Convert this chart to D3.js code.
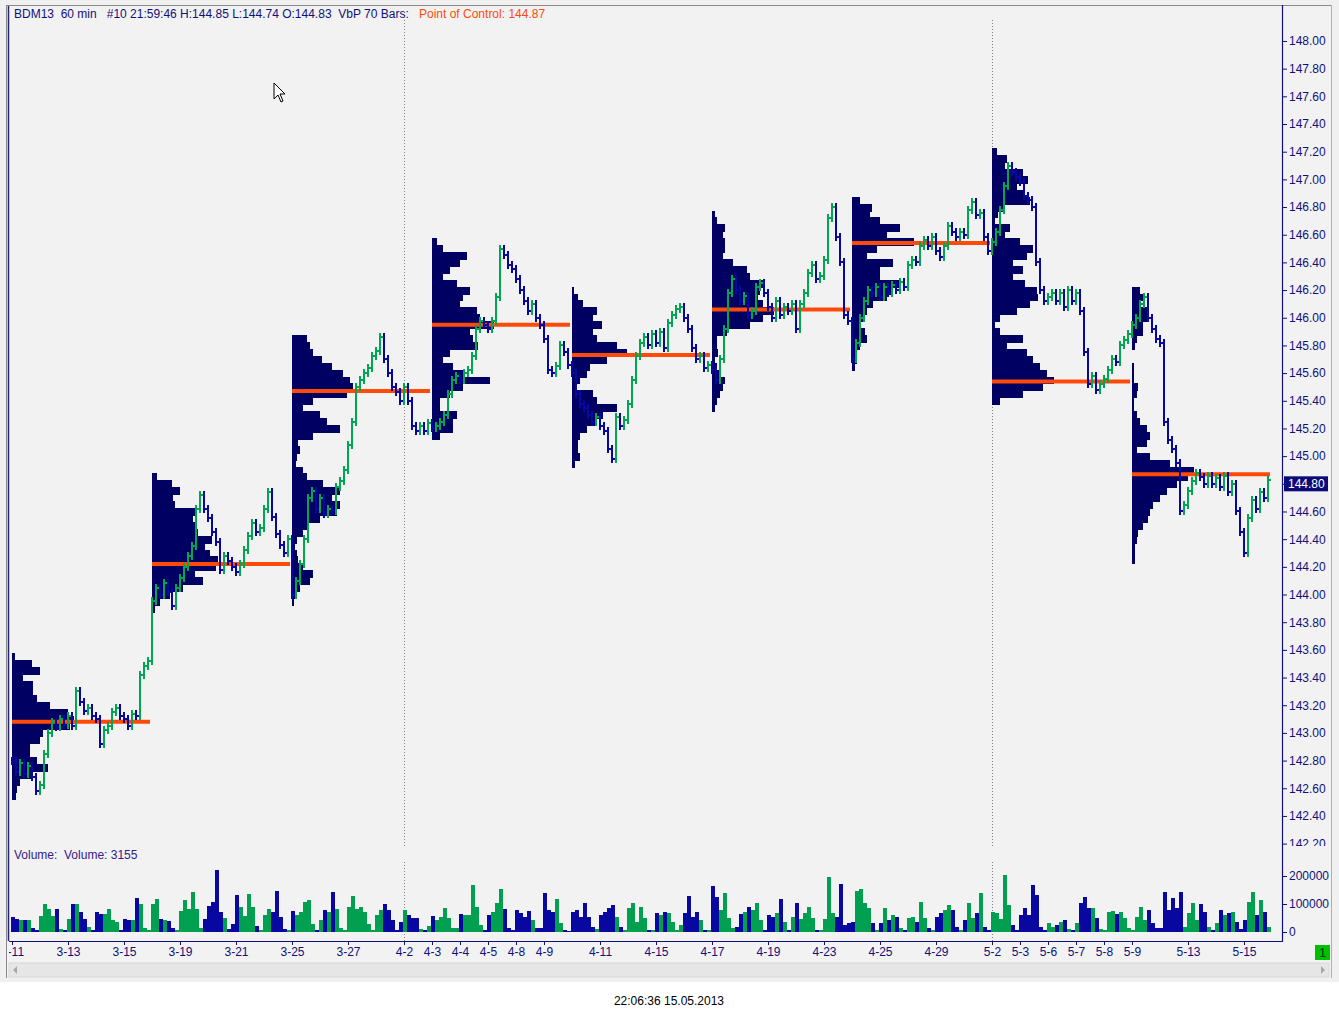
<!DOCTYPE html>
<html lang="en">
<head>
<meta charset="UTF-8">
<title>BDM13 60 min - Volume by Price</title>
<script src="https://d3js.org/d3.v7.min.js"></script>
<style>
    body { margin: 0; background: #ffffff; }
    text { font-family: "Liberation Sans", Arial, sans-serif; font-size: 12px; }
    .axis path, .axis line { stroke: #10107a; }
    .axis text { fill: #10107a; }
</style>
</head>
<body>
<svg id="chart" width="1339" height="1018"></svg>
<script>
// closes, one value per two 60-min bars, one array per week
var week1 = [142.80,142.72,142.78,142.70,142.76,142.68,142.58,142.62,142.85,143.00,143.08,143.04,143.10,143.06,143.12,143.05,143.30,143.22,143.16,143.18,143.12,143.10,142.92,143.02,143.05,143.15,143.18,143.12,143.10,143.05,143.14,143.12,143.42,143.48,143.52];
var week2 = [143.95,144.05,144.00,144.08,144.02,143.92,144.05,144.12,144.20,144.28,144.35,144.62,144.72,144.62,144.55,144.45,144.38,144.18,144.28,144.24,144.20,144.16,144.22,144.32,144.42,144.52,144.45,144.48,144.62,144.74,144.56,144.44,144.36,144.30,144.40];
var week3 = [144.00,144.10,144.22,144.40,144.70,144.75,144.62,144.70,144.58,144.62,144.60,144.78,144.82,144.90,145.08,145.25,145.50,145.55,145.60,145.64,145.72,145.76,145.86,145.70,145.60,145.50,145.46,145.40,145.50,145.40,145.22,145.18,145.22,145.18,145.24];
var week4 = [145.20,145.22,145.25,145.30,145.45,145.55,145.58,145.55,145.60,145.62,145.72,145.92,145.98,145.95,145.92,145.98,146.15,146.50,146.45,146.38,146.35,146.28,146.20,146.12,146.05,146.10,146.00,145.95,145.85,145.62,145.60,145.65,145.80,145.75,145.66];
var week5 = [145.60,145.45,145.38,145.35,145.30,145.25,145.28,145.22,145.18,145.05,144.98,145.28,145.22,145.26,145.38,145.55,145.72,145.82,145.86,145.80,145.88,145.82,145.90,145.78,145.96,146.02,146.06,146.08,146.00,145.92,145.78,145.70,145.72,145.64,145.66];
var week6 = [145.62,145.55,145.70,145.92,146.18,146.28,146.20,146.12,146.16,146.02,146.05,146.22,146.25,146.18,146.08,146.00,146.12,146.02,146.08,146.05,146.10,145.92,146.10,146.18,146.32,146.38,146.28,146.30,146.42,146.72,146.80,146.58,146.40,146.02,145.98];
var week7 = [145.70,145.82,146.00,146.12,146.20,146.18,146.22,146.15,146.22,146.18,146.24,146.20,146.26,146.22,146.38,146.42,146.40,146.52,146.56,146.52,146.58,146.48,146.44,146.52,146.66,146.62,146.58,146.62,146.60,146.78,146.84,146.74,146.76,146.58,146.48];
var week8 = [146.55,146.62,146.78,146.95,147.10,147.05,147.02,146.98,146.88,146.85,146.80,146.40,146.20,146.12,146.15,146.18,146.12,146.18,146.08,146.20,146.12,146.18,146.05,145.75,145.52,145.58,145.48,145.52,145.56,145.62,145.70,145.68,145.80,145.84,145.88];
var week9 = [145.95,146.00,146.10,146.15,146.00,145.92,145.85,145.82,145.25,145.12,145.05,144.95,144.60,144.65,144.75,144.82,144.88,144.85,144.80,144.86,144.80,144.84,144.78,144.86,144.74,144.80,144.60,144.45,144.30,144.55,144.68,144.62,144.74,144.70,144.83];

// volume (thousands of contracts), same two-bar steps
var vol1 = [54,46,43,43,43,14,7,57,100,82,57,82,11,7,46,100,100,71,46,18,7,71,64,64,82,43,36,7,46,43,43,121,100,14,7];
var vol2 = [100,118,46,43,39,14,7,75,114,82,143,82,14,46,93,107,221,71,50,11,29,132,89,57,136,89,21,7,61,82,71,146,54,11,7];
var vol3 = [75,61,71,107,114,29,7,43,79,71,143,82,14,7,89,129,82,89,71,29,7,61,79,100,79,43,7,36,79,61,50,50,11,7,21];
var vol4 = [57,43,54,86,50,14,14,64,61,61,168,89,25,7,61,71,104,154,82,14,7,79,68,54,75,43,14,14,139,79,71,118,32,7,4];
var vol5 = [71,79,54,104,54,18,11,61,71,86,96,54,18,7,86,104,36,89,50,7,7,68,61,71,68,36,7,25,68,129,54,71,43,7,7];
var vol6 = [164,125,79,139,50,14,18,64,71,89,79,104,43,7,61,54,68,118,36,7,54,104,46,68,89,50,7,7,46,196,68,54,171,25,32];
var vol7 = [36,146,154,104,86,32,7,32,86,43,61,54,14,7,50,54,36,107,50,14,7,54,68,79,96,79,18,7,43,104,50,68,139,18,7];
var vol8 = [71,68,46,204,96,25,7,61,86,61,168,132,18,7,32,18,25,36,43,11,7,32,104,125,86,86,50,11,7,71,75,64,71,50,14];
var vol9 = [7,54,89,43,79,32,14,14,143,79,121,86,143,18,68,104,43,100,71,18,7,32,79,61,68,71,36,11,43,107,143,61,114,71,18];

// volume-at-price profiles (relative volume), rows every 0.05 from the top price downwards
var profileTops = [143.55, 144.85, 145.85, 146.55, 146.20, 146.75, 146.85, 147.20, 146.20];
var pocPrices = [143.08, 144.22, 145.47, 145.95, 145.73, 146.06, 146.54, 145.54, 144.87];
var prof1 = [3,20,28,11,21,21,25,38,56,62,58,31,28,18,18,25,36,21,8,5,4];
var prof2 = [5,20,28,21,23,43,41,43,46,60,53,58,66,64,43,51,31,18,8,3];
var prof3 = [15,18,21,30,40,51,58,61,55,21,11,28,35,48,21,6,8,5,4,11,15,31,48,40,48,45,28,15,11,5,3,5,6,11,21,18,8,5,2];
var prof4 = [5,11,35,28,18,11,25,38,31,28,45,48,62,38,41,46,18,11,21,31,58,31,18,8,8,25,21,21,8];
var prof5 = [2,6,11,25,21,30,21,25,45,55,35,18,15,8,5,21,25,45,31,25,15,8,6,6,8,3];
var prof6 = [3,5,13,11,13,13,11,21,35,38,51,48,46,51,62,51,38,15,5,5,6,3,5,8,13,11,8,5,3];
var prof7 = [8,20,18,28,48,35,62,25,15,41,28,28,48,41,35,21,15,11,8,13,15,8,5,5,3];
var prof8 = [5,15,13,31,36,25,31,38,11,6,3,18,13,28,41,35,21,31,21,33,45,46,38,25,8,3,8,31,15,35,41,48,55,62,51,31,8];
var prof9 = [8,11,8,15,15,11,11,5,3,0,0,2,2,2,6,5,2,2,5,8,15,18,15,5,18,38,62,56,45,35,28,21,18,16,11,6,5,3,3,3];

// date labels and their trading-day index (14 bars per day)
var dayLabels = ["3-11","3-13","3-15","3-19","3-21","3-25","3-27","4-2","4-3","4-4","4-5","4-8","4-9","4-11","4-15","4-17","4-19","4-23","4-25","4-29","5-2","5-3","5-6","5-7","5-8","5-9","5-13","5-15"];
var dayIndex = [0,2,4,6,8,10,12,14,15,16,17,18,19,21,23,25,27,29,31,33,35,36,37,38,39,40,42,44];
var monthStarts = [14, 35];
var priceTicks = [142.20,142.40,142.60,142.80,143.00,143.20,143.40,143.60,143.80,144.00,144.20,144.40,144.60,144.80,145.00,145.20,145.40,145.60,145.80,146.00,146.20,146.40,146.60,146.80,147.00,147.20,147.40,147.60,147.80,148.00];
var volumeTicks = [0, 100000, 200000];
var lastPrice = 144.80;

var closes = [].concat(week1, week2, week3, week4, week5, week6, week7, week8, week9);
var volumes = [].concat(vol1, vol2, vol3, vol4, vol5, vol6, vol7, vol8, vol9);
var profiles = [prof1, prof2, prof3, prof4, prof5, prof6, prof7, prof8, prof9];

var navy = "#10107a", barBlue = "#0808a0", barGreen = "#00a651", profColor = "#000062", pocColor = "#ff4a0a";

var plotLeft = 9, plotRight = 1282, priceTop = 6, priceBottom = 846;

// scales
var x = d3.scaleLinear().domain([0, 630]).range([12, 1272]);          // 60-min bar index
var y = d3.scaleLinear().domain([142.19, 148.26]).range([845, 5]);
var yVol = d3.scaleLinear().domain([0, 300000]).range([932, 848]);
var w = d3.scaleLinear().domain([0, 100]).range([0, 100]);

var svg = d3.select("#chart");

// window + panel backgrounds
svg.append("rect").attr("width", 1339).attr("height", 982).attr("fill", "#f0f0f0");
svg.append("rect").attr("x", 6).attr("y", 5).attr("width", 1325).attr("height", 973).attr("fill", "#f2f2f2");
svg.append("line").attr("x1", 6.5).attr("x2", 6.5).attr("y1", 5).attr("y2", 978).attr("stroke", "#8a8a8a");
svg.append("line").attr("x1", 6).attr("x2", 1331).attr("y1", 5.5).attr("y2", 5.5).attr("stroke", "#8a8a8a");
svg.append("line").attr("x1", 1331.5).attr("x2", 1331.5).attr("y1", 5).attr("y2", 978).attr("stroke", "#b0b0b0");
svg.append("line").attr("x1", 8.5).attr("x2", 8.5).attr("y1", 6).attr("y2", 941).attr("stroke", "#26266e").attr("stroke-width", 1.5);

var defs = svg.append("defs");
defs.append("clipPath").attr("id", "priceClip").append("rect")
    .attr("x", plotLeft).attr("y", priceTop).attr("width", plotRight - plotLeft).attr("height", priceBottom - priceTop);
defs.append("clipPath").attr("id", "axisClip").append("rect")
    .attr("x", plotRight).attr("y", priceTop).attr("width", 57).attr("height", priceBottom - priceTop);
defs.append("clipPath").attr("id", "dateClip").append("rect")
    .attr("x", plotLeft).attr("y", 941).attr("width", plotRight - plotLeft).attr("height", 20);

var price = svg.append("g").attr("clip-path", "url(#priceClip)");

// month separators
monthStarts.forEach(function(d) {
    var mx = Math.round(x(d * 14)) + 0.5;
    price.append("line").attr("x1", mx).attr("x2", mx).attr("y1", 20).attr("y2", priceBottom)
        .attr("stroke", "#808080").attr("stroke-dasharray", "1,2");
    svg.append("line").attr("x1", mx).attr("x2", mx).attr("y1", 862).attr("y2", 941)
        .attr("stroke", "#808080").attr("stroke-dasharray", "1,2");
});

// volume profiles
profiles.forEach(function(prof, s) {
    var left = x(s * 70);
    price.append("g").attr("shape-rendering", "crispEdges").selectAll("rect")
        .data(prof)
        .join("rect")
        .attr("x", left)
        .attr("y", function(d, i) { return y(profileTops[s] - 0.05 * i + 0.025); })
        .attr("width", function(d) { return w(d); })
        .attr("height", function(d, i) { return y(profileTops[s] - 0.05 * i - 0.025) - y(profileTops[s] - 0.05 * i + 0.025) + 1; })
        .attr("fill", profColor);
});

// point of control lines
price.append("g").selectAll("line")
    .data(pocPrices)
    .join("line")
    .attr("x1", function(d, s) { return x(s * 70); })
    .attr("x2", function(d, s) { return x(s * 70 + 69); })
    .attr("y1", function(d) { return y(d); })
    .attr("y2", function(d) { return y(d); })
    .attr("stroke", pocColor)
    .attr("stroke-width", 4);

// price bars (close to close, with a small range either side)
function isUp(i) { return i > 0 && closes[i] > closes[i - 1]; }
price.append("g").attr("shape-rendering", "crispEdges").selectAll("rect")
    .data(closes)
    .join("rect")
    .attr("x", function(d, i) { return x(i * 2) - 1; })
    .attr("width", 2)
    .attr("y", function(d, i) {
        var p = i > 0 ? closes[i - 1] : d;
        return y(Math.max(p, d)) - 4;
    })
    .attr("height", function(d, i) {
        var p = i > 0 ? closes[i - 1] : d;
        return Math.abs(y(p) - y(d)) + 8;
    })
    .attr("fill", function(d, i) { return isUp(i) ? barGreen : barBlue; });

// close ticks
price.append("g").attr("shape-rendering", "crispEdges").selectAll("rect")
    .data(closes)
    .join("rect")
    .attr("x", function(d, i) { return x(i * 2) + 1; })
    .attr("width", 2)
    .attr("y", function(d) { return y(d) - 1; })
    .attr("height", 2)
    .attr("fill", function(d, i) { return isUp(i) ? barGreen : barBlue; });

// header
svg.append("text").attr("x", 14).attr("y", 18).attr("fill", navy).style("white-space", "pre")
    .text("BDM13  60 min   #10 21:59:46 H:144.85 L:144.74 O:144.83  VbP 70 Bars:");
svg.append("text").attr("x", 419).attr("y", 18).attr("fill", pocColor)
    .text("Point of Control: " + d3.format(".2f")(pocPrices[8]));

// price axis
svg.append("g").attr("clip-path", "url(#axisClip)")
  .append("g").attr("class", "axis")
    .attr("transform", "translate(" + plotRight + ",0)")
    .call(d3.axisRight(y).tickValues(priceTicks).tickFormat(d3.format(".2f")).tickSize(5).tickPadding(2))
    .call(function(g) { g.select(".domain").remove(); });
svg.append("line").attr("x1", plotRight + 0.5).attr("x2", plotRight + 0.5).attr("y1", 5).attr("y2", 941)
    .attr("stroke", navy).attr("stroke-width", 1.2);

// last price marker
svg.append("rect").attr("x", plotRight + 2).attr("y", y(lastPrice) - 7.5).attr("width", 44).attr("height", 15).attr("fill", "#0a0a78");
svg.append("text").attr("x", plotRight + 6).attr("y", y(lastPrice) + 4.5).attr("fill", "#ffffff").text(d3.format(".2f")(lastPrice));

// volume panel
svg.append("text").attr("x", 14).attr("y", 859).attr("fill", "#33208a").style("white-space", "pre")
    .text("Volume:  Volume: 3155");

svg.append("g").attr("shape-rendering", "crispEdges").selectAll("rect")
    .data(volumes)
    .join("rect")
    .attr("x", function(d, i) { return x(i * 2) - 1; })
    .attr("width", 4)
    .attr("y", function(d) { return yVol(d * 1000); })
    .attr("height", function(d) { return yVol(0) - yVol(d * 1000); })
    .attr("fill", function(d, i) { return isUp(i) ? "#00a050" : "#0808a0"; });

svg.append("g").attr("class", "axis")
    .attr("transform", "translate(" + plotRight + ",0)")
    .call(d3.axisRight(yVol).tickValues(volumeTicks).tickFormat(d3.format("d")).tickSize(5).tickPadding(2))
    .call(function(g) { g.select(".domain").remove(); });

// date axis
svg.append("g").attr("clip-path", "url(#dateClip)")
  .append("g").attr("class", "axis")
    .attr("transform", "translate(0,941)")
    .call(d3.axisBottom(x)
        .tickValues(dayIndex.map(function(d) { return d * 14; }))
        .tickFormat(function(d, i) { return dayLabels[i]; })
        .tickSize(4).tickPadding(2))
    .call(function(g) { g.select(".domain").remove(); });
svg.append("line").attr("x1", plotLeft).attr("x2", plotRight + 1).attr("y1", 941.5).attr("y2", 941.5)
    .attr("stroke", navy).attr("stroke-width", 1.2);

// bar counter badge
svg.append("rect").attr("x", 1315).attr("y", 945).attr("width", 15).attr("height", 15).attr("fill", "#00c000");
svg.append("text").attr("x", 1322.5).attr("y", 957).attr("text-anchor", "middle").attr("fill", "#003000").text("1");

// scrollbar
svg.append("rect").attr("x", 9).attr("y", 963).attr("width", 1320).attr("height", 14).attr("fill", "#e6e6e6").attr("stroke", "#d8d8d8");
svg.append("path").attr("d", "M13,970 L17,966 L17,974 Z").attr("fill", "#a8a8a8");
svg.append("path").attr("d", "M1325,970 L1321,966 L1321,974 Z").attr("fill", "#a8a8a8");

// timestamp
svg.append("text").attr("x", 669).attr("y", 1005).attr("text-anchor", "middle").attr("fill", "#000000")
    .text("22:06:36 15.05.2013");

// mouse pointer
svg.append("path").attr("d", "M274,83 L274,99 L278,95 L281,102 L283,101 L280,94 L285,94 Z")
    .attr("fill", "#ffffff").attr("stroke", "#000000").attr("stroke-width", 1);
</script>
</body>
</html>
